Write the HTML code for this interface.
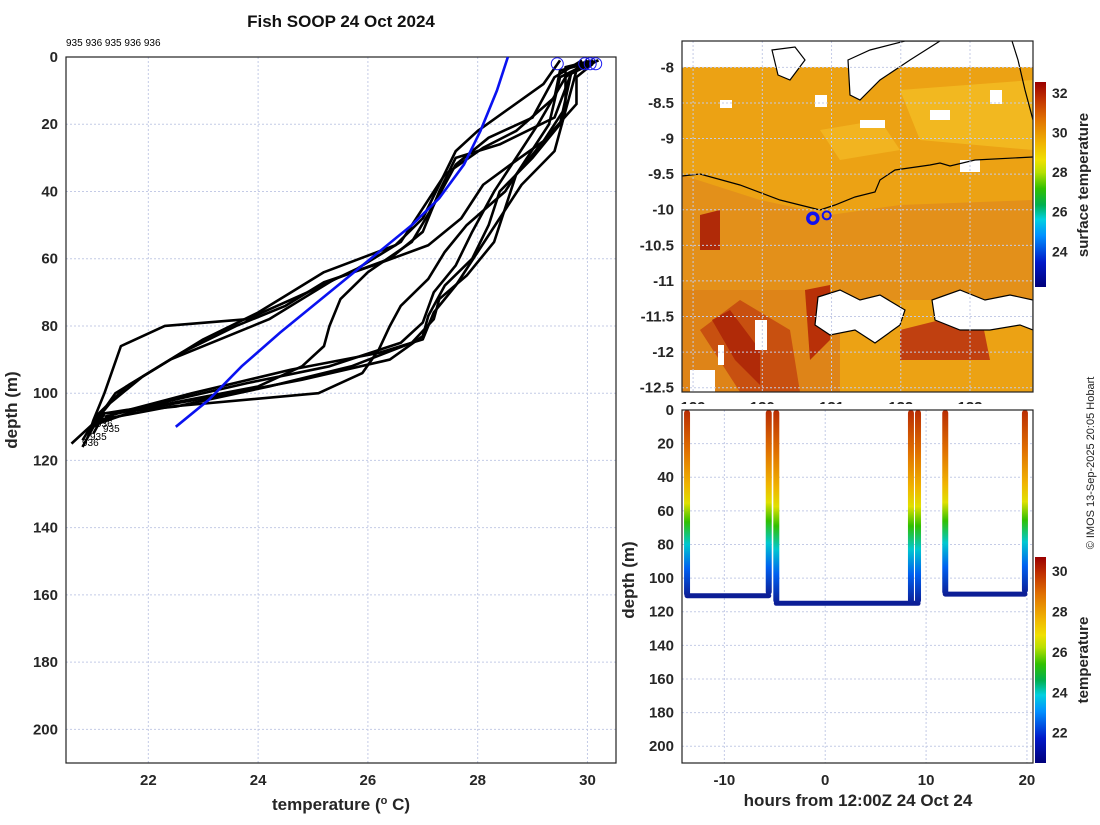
<!DOCTYPE html>
<html><head><meta charset="utf-8">
<style>
body{margin:0;background:#fff;}
svg text{font-family:"Liberation Sans",sans-serif;}
.t{font-size:15px;font-weight:bold;fill:#262626;}
</style></head>
<body>
<svg id="chart" width="1100" height="820" xmlns="http://www.w3.org/2000/svg">
<defs>
<linearGradient id="cbar2" x1="0" y1="1" x2="0" y2="0"></linearGradient>
<linearGradient id="cbar1" x1="0" y1="1" x2="0" y2="0"></linearGradient>
<clipPath id="mapclip"><rect x="682" y="41" width="351" height="351"/></clipPath>
</defs>
<text x="341" y="27" text-anchor="middle" style="font-size:17px;font-weight:bold;fill:#111">Fish SOOP 24 Oct 2024</text>
<text x="66" y="46" style="font-size:10px;fill:#000">935 936 935 936 936</text>
<g id="left"></g>
<g id="map"></g>
<g id="ts"></g>
<text transform="translate(1094,463) rotate(-90)" text-anchor="middle" style="font-size:11px;fill:#222">© IMOS 13-Sep-2025 20:05 Hobart</text>
</svg>
<script>
const NS="http://www.w3.org/2000/svg";
const svg=document.getElementById('chart');
function mk(tag,attrs,parent){const e=document.createElementNS(NS,tag);for(const k in attrs)e.setAttribute(k,attrs[k]);(parent||svg).appendChild(e);return e;}

// ---------- LEFT PROFILE CHART DATA ----------
const tempTicks=[22,24,26,28,30];
const depthTicks=[0,20,40,60,80,100,120,140,160,180,200];
const profileA=[[30.1,1],[29.6,3],[29.6,15],[29.2,25],[28.6,32],[28.1,38],[27.7,48],[27.1,56],[26.1,62],[25.2,67],[24.5,74],[23.6,80],[22.6,88],[21.6,98],[21.1,106],[20.8,114]];
const profileB=[[30.2,1],[29.5,4],[29.4,12],[28.7,22],[28.1,27],[27.4,35],[27.0,45],[26.6,55],[25.8,63],[24.9,70],[23.8,78],[22.3,80],[21.5,86],[21.2,100],[21.0,108],[20.9,113]];
const profileC=[[30.0,1],[29.7,5],[29.4,18],[28.4,26],[27.6,30],[27.3,40],[27.0,52],[26.4,60],[25.4,66],[24.8,72],[24.2,78],[23.3,84],[22.4,90],[21.4,100],[21.1,107],[20.8,116]];
const profileD=[[29.5,1],[29.2,8],[28.0,22],[27.6,28],[27.3,38],[27.0,48],[26.5,56],[25.2,64],[24.6,70],[24.0,76],[23.0,84],[21.9,95],[21.3,103],[21.0,109],[20.6,115]];
const profileE=[[30.1,2],[29.8,6],[29.8,14],[29.2,25],[28.7,35],[28.5,45],[28.3,55],[27.8,65],[27.3,72],[27.2,78],[26.8,85],[25.7,92],[24.2,98],[22.5,104],[21.2,106],[21.0,110]];
const profileF=[[30.2,1],[29.7,5],[29.5,20],[29.0,30],[28.4,40],[28.2,50],[27.9,60],[27.4,68],[27.1,77],[27.0,83],[26.4,90],[24.8,96],[23.2,101],[21.8,105],[21.1,109]];
const profileG=[[30.0,1],[29.6,6],[29.1,20],[28.7,30],[28.3,40],[27.9,52],[27.6,62],[27.2,70],[27.0,79],[26.6,85],[25.3,92],[23.8,97],[22.2,103],[21.2,107]];
const profileH=[[30.1,1],[29.8,4],[29.6,16],[29.4,28],[28.8,38],[28.4,48],[28.0,58],[27.6,68],[27.2,76],[27.0,84],[26.2,88],[24.6,93],[22.8,100],[21.4,106],[21.0,110]];
const profileI=[[29.9,1],[29.4,6],[29.0,18],[28.2,24],[27.6,32],[27.2,44],[26.8,55],[26.0,64],[25.5,72],[25.3,80],[25.2,86],[24.8,92],[24.0,98],[22.4,103],[21.2,106],[21.0,112]];
const profileJ=[[30.0,2],[29.5,6],[29.3,20],[28.9,30],[28.5,40],[27.8,50],[27.4,58],[27.1,66],[26.6,74],[26.4,80],[26.2,87],[25.9,94],[25.1,100],[22.4,104],[21.1,108]];
const profiles=[profileA,profileB,profileC,profileD,profileE,profileF,profileG,profileH,profileI,profileJ];
const blueTemps=[28.55,28.35,28.05,27.75,27.3,26.8,26.2,25.6,25.0,24.4,23.7,23.1,22.5];
const blueDepths=[0,10,22,32,42,50,58,66,74,82,92,102,110];
const surfaceTemps=[29.45,29.95,30.05,30.15];

const L={x0:66,x1:616,y0:57,y1:763,tmin:20.5,tmax:30.52,dmax:210};
const tx=t=>L.x0+(t-L.tmin)/(L.tmax-L.tmin)*(L.x1-L.x0);
const dy=d=>L.y0+d/L.dmax*(L.y1-L.y0);
const left=document.getElementById('left');
tempTicks.forEach(t=>{
 const g=mk('line',{x1:tx(t),x2:tx(t),y1:L.y0,y2:L.y1,stroke:'#c4cbe6','stroke-dasharray':'2,2'},left);
 
 
 const s=mk('text',{x:tx(t),y:L.y1+22,'text-anchor':'middle',class:'t'},left);s.textContent=t;
 
 
});
depthTicks.forEach(d=>{
 const g=mk('line',{x1:L.x0,x2:L.x1,y1:dy(d),y2:dy(d),stroke:'#c4cbe6','stroke-dasharray':'2,2'},left);
 
 
 const s=mk('text',{x:L.x0-8,y:dy(d)+5,'text-anchor':'end',class:'t'},left);s.textContent=d;
 
 
});
const fr=mk('rect',{x:L.x0,y:L.y0,width:L.x1-L.x0,height:L.y1-L.y0,fill:'none',stroke:'#222','stroke-width':1.2},left);


profiles.forEach((p,i)=>{
 const pl=mk('polyline',{points:p.map(q=>tx(q[0])+','+dy(q[1])).join(' '),fill:'none',stroke:'#000','stroke-width':2.6,'stroke-linejoin':'round'},left);
 
 
});
const bl=mk('polyline',{points:blueTemps.map((t,i)=>tx(t)+','+dy(blueDepths[i])).join(' '),fill:'none',stroke:'#0a12f0','stroke-width':2.6},left);


surfaceTemps.forEach(t=>{
 const c=mk('circle',{cx:tx(t),cy:dy(2),r:6,fill:'none',stroke:'#1a1af0','stroke-width':1},left);
 
 
});
[['936',96,427],['935',103,432],['935',90,440],['936',82,446]].forEach(a=>{
 const s=mk('text',{x:a[1],y:a[2],style:'font-size:10px;fill:#000'},left);s.textContent=a[0];
 
 
});
let s=mk('text',{x:341,y:810,'text-anchor':'middle',class:'t',style:'font-size:17px'},left);
s.innerHTML='temperature (<tspan dy="-6" font-size="11">o</tspan><tspan dy="6"> C)</tspan>';


s=mk('text',{transform:'translate(17,410) rotate(-90)','text-anchor':'middle',class:'t',style:'font-size:17px'},left);s.textContent='depth (m)';



// ---------- COLORMAP ----------
const cmapStops=[[0,'#00007a'],[0.12,'#0018c8'],[0.25,'#0090ff'],[0.33,'#00d0e0'],[0.40,'#00b050'],[0.48,'#30c000'],[0.56,'#b8e000'],[0.62,'#f0e000'],[0.70,'#f0b400'],[0.82,'#e07000'],[0.92,'#c03000'],[1,'#9a0000']];
['cbar1','cbar2'].forEach(id=>{const g=document.getElementById(id);cmapStops.forEach(st=>mk('stop',{offset:st[0],'stop-color':st[1]},g));});

// ---------- MAP ----------
const lonTicks=[129,130,131,132,133];
const latTicks=[-8,-8.5,-9,-9.5,-10,-10.5,-11,-11.5,-12,-12.5];
const shipLon=[130.73,130.93];
const shipLat=[-10.12,-10.08];
const cb1Ticks=[24,26,28,30,32];
const M={x0:682,x1:1033,y0:41,y1:392,lonA:128.84,lonB:133.91,latTop:-7.63,latBot:-12.56};
const mx=l=>M.x0+(l-M.lonA)/(M.lonB-M.lonA)*(M.x1-M.x0);
const my=l=>M.y0+(M.latTop-l)/(M.latTop-M.latBot)*(M.y1-M.y0);
const map=document.getElementById('map');
const mg=mk('g',{'clip-path':'url(#mapclip)'},map);
let r=mk('rect',{x:682,y:67,width:351,height:325,fill:'#eca214'},mg);


[['#e3901a','M682 175 L760 200 L830 215 L900 205 L1033 200 L1033 300 L682 300 Z'],
 ['#de8418','M682 290 L840 290 L840 392 L682 392 Z'],
 ['#c85010','M700 330 L740 300 L790 330 L800 392 L740 392 Z'],
 ['#b02a08','M712 320 L730 310 L760 350 L760 385 L735 360 Z'],
 ['#b83008','M805 290 L830 285 L830 340 L810 360 Z'],
 ['#c04010','M900 330 L980 310 L990 360 L900 360 Z'],
 ['#b02a08','M700 215 L720 210 L720 250 L700 250 Z'],
 ['#f2b820','M900 90 L1033 80 L1033 150 L920 140 Z'],
 ['#f2b420','M820 130 L880 120 L900 150 L840 160 Z']].forEach(a=>{
 const p=mk('path',{d:a[1],fill:a[0]},mg);
 
 
});
[[682,41,351,26],[815,95,12,12],[860,120,25,8],[930,110,20,10],[990,90,12,14],[960,160,20,12],[720,100,12,8],[755,320,12,30],[690,370,25,22],[718,345,6,20]].forEach(a=>{
 const p=mk('rect',{x:a[0],y:a[1],width:a[2],height:a[3],fill:'#fff'},mg);
 
 
});
[['M818 297 L840 290 L860 300 L880 295 L905 310 L900 325 L875 343 L855 330 L830 335 L815 325 Z','#fff'],
 ['M932 300 L960 290 L985 300 L1010 295 L1033 300 L1033 330 L1020 325 L990 330 L960 330 L935 320 Z','#fff'],
 ['M848 60 L870 50 L905 41 L940 41 L910 60 L880 80 L860 100 L850 95 Z','#fff'],
 ['M772 50 L795 47 L805 60 L790 80 L778 75 Z','#fff']].forEach(a=>{
 const p=mk('path',{d:a[0],fill:a[1],stroke:'#000','stroke-width':1.2},mg);
 
 
});
let c=mk('path',{d:'M682 176 L700 174 L740 185 L780 200 L800 205 L820 210 L835 205 L855 197 L875 192 L880 180 L895 170 L930 165 L940 163 L950 166 L975 160 L1033 157',fill:'none',stroke:'#000','stroke-width':1.2},mg);


c=mk('path',{d:'M1012 41 L1018 60 L1025 90 L1033 120',fill:'none',stroke:'#000','stroke-width':1.2},mg);


lonTicks.forEach(l=>{
 const g=mk('line',{x1:mx(l),x2:mx(l),y1:M.y0,y2:M.y1,stroke:'#c4cbe6','stroke-dasharray':'2,2'},map);
 
 
 const t=mk('text',{x:mx(l),y:M.y1+20,'text-anchor':'middle',class:'t'},map);t.textContent=l;
 
 
});
latTicks.forEach(l=>{
 const g=mk('line',{x1:M.x0,x2:M.x1,y1:my(l),y2:my(l),stroke:'#c4cbe6','stroke-dasharray':'2,2'},map);
 
 
 const t=mk('text',{x:M.x0-8,y:my(l)+5,'text-anchor':'end',class:'t'},map);t.textContent=l;
 
 
});
shipLon.forEach((l,i)=>{
 const cc=mk('circle',{cx:mx(l),cy:my(shipLat[i]),r:i?4:5,fill:'none',stroke:'#1010f0','stroke-width':i?2:3.5},map);
 
 
});
r=mk('rect',{x:M.x0,y:M.y0,width:M.x1-M.x0,height:M.y1-M.y0,fill:'none',stroke:'#222','stroke-width':1.2},map);


const C1={x:1035,y0:82,y1:287,vmin:22.2,vmax:32.55};
r=mk('rect',{x:C1.x,y:C1.y0,width:11,height:C1.y1-C1.y0,fill:'url(#cbar1)'},map);


cb1Ticks.forEach(v=>{
 const t=mk('text',{x:1052,y:C1.y1-(v-C1.vmin)/(C1.vmax-C1.vmin)*(C1.y1-C1.y0)+5,class:'t',style:'font-size:14px'},map);t.textContent=v;
 
 
});
s=mk('text',{transform:'translate(1088,185) rotate(-90)','text-anchor':'middle',class:'t'},map);s.textContent='surface temperature';



// ---------- TIME-DEPTH PANEL ----------
const castHours=[-13.7,-5.6,-4.85,8.5,9.2,11.9,19.8];
const castDepths=[111,110,115,115,115,110,109];
const towStart=[-13.7,-4.85,11.9];
const towEnd=[-5.6,9.2,19.8];
const towDepth=[110.5,115,109.5];
const hourTicks=[-10,0,10,20];
const tsDepthTicks=[0,20,40,60,80,100,120,140,160,180,200];
const cb2Ticks=[22,24,26,28,30];
const T={x0:682,x1:1033,y0:410,y1:763,hmin:-14.2,hmax:20.6,dmax:210};
const hx=h=>T.x0+(h-T.hmin)/(T.hmax-T.hmin)*(T.x1-T.x0);
const hy=d=>T.y0+d/T.dmax*(T.y1-T.y0);
const ts=document.getElementById('ts');
r=mk('rect',{x:676,y:404,width:364,height:359,fill:'#fff'},ts);


hourTicks.forEach(h=>{
 const g=mk('line',{x1:hx(h),x2:hx(h),y1:T.y0,y2:T.y1,stroke:'#c4cbe6','stroke-dasharray':'2,2'},ts);
 
 
 const t=mk('text',{x:hx(h),y:T.y1+22,'text-anchor':'middle',class:'t'},ts);t.textContent=h;
 
 
});
tsDepthTicks.forEach(d=>{
 const g=mk('line',{x1:T.x0,x2:T.x1,y1:hy(d),y2:hy(d),stroke:'#c4cbe6','stroke-dasharray':'2,2'},ts);
 
 
 const t=mk('text',{x:T.x0-8,y:hy(d)+5,'text-anchor':'end',class:'t'},ts);t.textContent=d;
 
 
});
towStart.forEach((h,i)=>{
 const l=mk('line',{x1:hx(h),x2:hx(towEnd[i]),y1:hy(towDepth[i]),y2:hy(towDepth[i]),stroke:'#0c1e96','stroke-width':5,'stroke-linecap':'round'},ts);
 
 
});
const defs=svg.querySelector('defs');
castHours.forEach((h,i)=>{
 const gid='cg'+i;
 const g=mk('linearGradient',{id:gid,x1:0,y1:0,x2:0,y2:1},defs);
 [[0,'#b82c04'],[0.22,'#e07000'],[0.4,'#f0b400'],[0.5,'#e0e000'],[0.6,'#30c000'],[0.72,'#00c8d0'],[0.85,'#0060f0'],[1,'#0c1e96']].forEach(st=>mk('stop',{offset:st[0],'stop-color':st[1]},g));
 const b=mk('rect',{x:hx(h)-3,y:hy(0),width:6,height:hy(castDepths[i])-hy(0),rx:3,fill:'url(#'+gid+')'},ts);
 
 
});
r=mk('rect',{x:T.x0,y:T.y0,width:T.x1-T.x0,height:T.y1-T.y0,fill:'none',stroke:'#222','stroke-width':1.2},ts);


const C2={x:1035,y0:557,y1:763,vmin:20.5,vmax:30.7};
r=mk('rect',{x:C2.x,y:C2.y0,width:11,height:C2.y1-C2.y0,fill:'url(#cbar2)'},ts);


cb2Ticks.forEach(v=>{
 const t=mk('text',{x:1052,y:C2.y1-(v-C2.vmin)/(C2.vmax-C2.vmin)*(C2.y1-C2.y0)+5,class:'t',style:'font-size:14px'},ts);t.textContent=v;
 
 
});
s=mk('text',{transform:'translate(1088,660) rotate(-90)','text-anchor':'middle',class:'t'},ts);s.textContent='temperature';


s=mk('text',{transform:'translate(634,580) rotate(-90)','text-anchor':'middle',class:'t',style:'font-size:17px'},ts);s.textContent='depth (m)';


s=mk('text',{x:858,y:806,'text-anchor':'middle',class:'t',style:'font-size:17px'},ts);s.textContent='hours from 12:00Z 24 Oct 24';


</script>
</body></html>
